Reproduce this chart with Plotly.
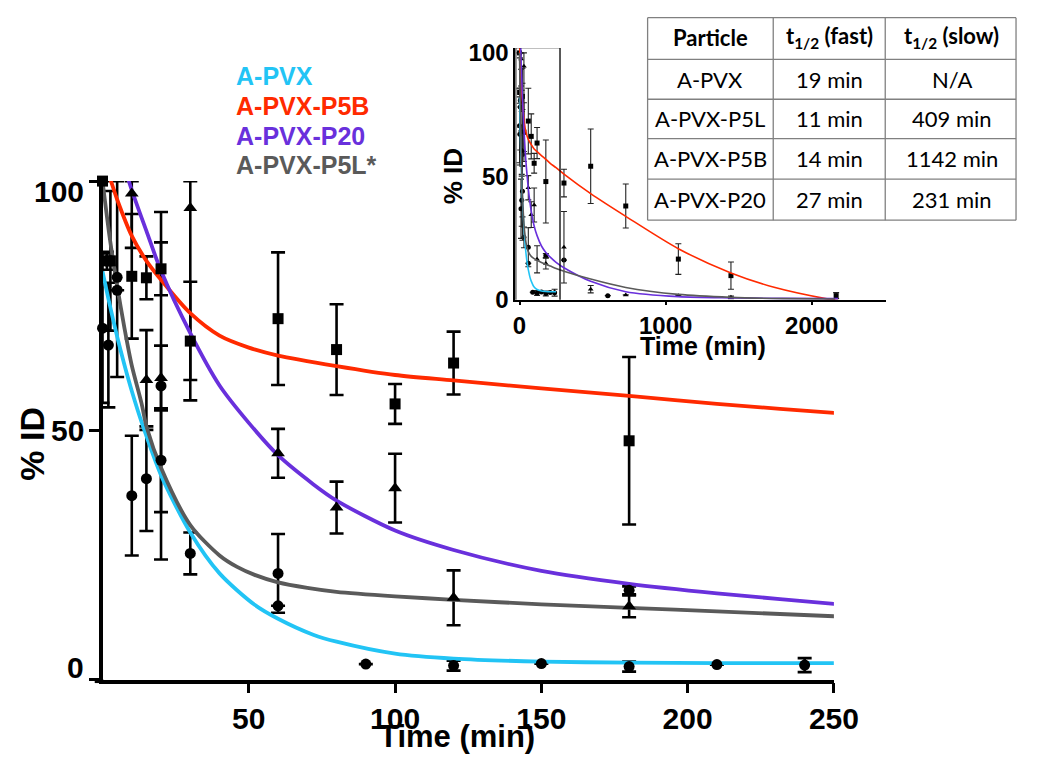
import plotly.graph_objects as go

# page has the browser's default 8px body margin; figure sized so the page is 1050x773
OFF = 8
FW, FH = 1050 - 2 * OFF, 773 - 2 * OFF

# ---------------- data ----------------
SERIES = ["A-PVX", "A-PVX-P5B", "A-PVX-P20", "A-PVX-P5L*"]
COLORS = ["#22c4f5", "#ff2a00", "#6930dc", "#5a5a5a"]

# measured points (black markers)
TIME_APVX = [0, 5, 10, 15, 20, 30, 60, 90, 120, 150, 180, 210, 240]
VAL_APVX = [70.5, 80.7, 36.9, 40.3, 44.0, 25.3, 14.8, 3.1, 2.8, 3.2, 2.6, 3.0, 2.9]
EUP_APVX = [15, 19.3, 12, 10.5, 10.4, 4.2, 0, 0, 1.0, 0, 1.0, 0, 1.4]
EDN_APVX = [15, 20, 12, 10.5, 10.4, 4.2, 0, 0, 1.0, 0, 1.0, 0, 1.4]

TIME_P5L = [2, 5, 20, 60, 180, 304, 604]
VAL_P5L = [67.1, 78.1, 58.9, 21.3, 17.9, 16.1, 1.7]
EUP_P5L = [12.5, 0, 34.9, 7.9, 0.8, 0, 0]
EDN_P5L = [12.5, 0, 34.8, 7.9, 0.8, 0, 0]

TIME_P5B = [0, 1.5, 2.7, 10, 15, 20, 30, 60, 80, 100, 120, 180, 304, 487, 727, 1087, 1447, 2167]
VAL_P5B = [100, 84, 84, 80.9, 80.6, 82.4, 67.9, 72.4, 66.2, 55.3, 63.5, 47.9, 47.3, 54.1, 38.0, 16.5, 9.8, 1.7]
EUP_P5B = [0, 1.8, 14, 12.5, 4.3, 5.3, 11.9, 13.3, 9.1, 4.0, 6.3, 16.8, 5.6, 15.1, 8.9, 6.2, 5.5, 1.2]
EDN_P5B = [0, 1.8, 14, 12.5, 4.3, 5.3, 11.9, 13.3, 9.1, 4.0, 6.3, 16.8, 5.6, 15.1, 8.9, 6.2, 5.5, 1.2]

TIME_P20 = [10, 15, 20, 30, 60, 80, 100, 120, 180, 304, 487, 727, 1087, 1447]
VAL_P20 = [97.5, 60.1, 60.5, 94.6, 45.4, 34.5, 38.4, 16.4, 14.7, 21.3, 4.3, 2.0, 1.7, 1.0]
EUP_P20 = [2.5, 10, 6.5, 5.4, 4.9, 5.2, 6.9, 5.5, 2.2, 14.5, 1.5, 0, 0, 0.5]
EDN_P20 = [10.9, 10, 6.5, 34.5, 4.9, 5.2, 6.9, 5.5, 2.2, 14.5, 1.5, 0, 0, 0.5]

# fitted curves
CT_APVX = [0, 2.5, 5, 7.5, 10, 13.5, 20, 30, 40, 52, 60, 72, 80, 100, 120, 150, 180, 210, 250]
CV_APVX = [81.9, 75.1, 68.8, 63.1, 57.9, 51.4, 41.0, 29.5, 21.3, 15.0, 12.2, 9.0, 7.6, 5.2, 4.2, 3.6, 3.4, 3.3, 3.3]

CT_P5B = [0, 2.9, 5, 10, 15, 20, 30, 40, 50, 60, 80, 100, 120, 150, 180, 210, 250,
          304, 487, 727, 1087, 1447, 1749, 2104, 2180]
CV_P5B = [105, 100, 96.3, 89, 84, 80.2, 73.5, 69, 66.6, 65.0, 62.9, 61.1, 60.0, 58.4, 56.9, 55.3, 53.5,
          50.9, 43.0, 33.8, 20.7, 10.9, 5.0, 0.4, -0.3]

CT_P20 = [3, 6, 9, 15, 20, 30, 40, 50, 60, 72, 80, 100, 120, 150, 180, 210, 250,
          304, 487, 727, 1087, 1447, 1800, 2180]
CV_P20 = [116, 107.5, 100, 90, 82, 69.5, 59, 51.5, 45, 39.2, 35.9, 29.9, 26.0, 21.8, 19.2, 17.3, 15.2,
          13.0, 7.5, 3.3, 1.3, 0.8, 0.6, 0.5]

CT_P5L = [0, 2.5, 5, 7.5, 10, 13.3, 15.2, 20, 30, 40, 46, 52, 60, 70, 80, 100, 120, 150, 180, 210, 250,
          304, 487, 727, 1087, 1447, 1800, 2160]
CV_P5L = [100, 88.5, 79, 70.5, 63, 55.5, 50.4, 42.5, 31, 24.9, 22.6, 21.0, 19.5, 18.4, 17.6, 16.7, 16.0, 15.1,
          14.4, 13.7, 12.7, 11.6, 8.4, 5.0, 2.2, 1.0, 0.5, 0.3]

# axis ticks
MAIN_XTICKS = [50, 100, 150, 200, 250]
MAIN_YTICKS = [0, 50, 100]
INSET_XTICKS = [0, 1000, 2000]
INSET_YTICKS = [0, 50, 100]

# table
TABLE_HEADER = ["Particle", "t<sub>1/2</sub> (fast)", "t<sub>1/2</sub> (slow)"]
TABLE_PARTICLE = ["A-PVX", "A-PVX-P5L", "A-PVX-P5B", "A-PVX-P20"]
TABLE_FAST = ["19 min", "11 min", "14 min", "27 min"]
TABLE_SLOW = ["N/A", "409 min", "1142 min", "231 min"]

# ---------------- helpers ----------------
FONT = "Liberation Sans, Arial, sans-serif"
TFONT = "Lato, Liberation Sans, sans-serif"


def px(x):
    """screen x (pixels) -> paper fraction"""
    return (x - OFF) / FW


def py(y):
    """screen y (pixels from top) -> paper fraction"""
    return 1 - (y - OFF) / FH


MAIN_MAX_T = 250

fig = go.Figure()

points = [
    (TIME_APVX, VAL_APVX, EUP_APVX, EDN_APVX, "circle"),
    (TIME_P5L, VAL_P5L, EUP_P5L, EDN_P5L, "circle"),
    (TIME_P5B, VAL_P5B, EUP_P5B, EDN_P5B, "square"),
    (TIME_P20, VAL_P20, EUP_P20, EDN_P20, "triangle-up"),
]
curves = [
    (CT_APVX, CV_APVX, COLORS[0]),
    (CT_P5B, CV_P5B, COLORS[1]),
    (CT_P20, CV_P20, COLORS[2]),
    (CT_P5L, CV_P5L, COLORS[3]),
]


def subset(t, *cols):
    idx = [i for i, v in enumerate(t) if v <= MAIN_MAX_T]
    return [[c[i] for i in idx] for c in (t,) + cols]


# ---- main plot: error bars (under curves) ----
for t, v, eu, ed, sym in points:
    tt, vv, uu, dd = subset(t, v, eu, ed)
    fig.add_trace(go.Scatter(
        x=tt, y=vv, mode="markers", xaxis="x", yaxis="y",
        marker=dict(size=2, color="rgba(0,0,0,0)"),
        error_y=dict(type="data", symmetric=False, array=uu, arrayminus=dd,
                     color="black", thickness=2.6, width=7),
        showlegend=False, hoverinfo="skip"))

# ---- main plot: curves ----
for t, v, c in curves:
    fig.add_trace(go.Scatter(
        x=t, y=v, mode="lines", xaxis="x", yaxis="y",
        line=dict(color=c, width=3.8, shape="spline", smoothing=0.8),
        showlegend=False, hoverinfo="skip"))

# ---- main plot: markers ----
for t, v, eu, ed, sym in points:
    tt, vv = subset(t, v)
    fig.add_trace(go.Scatter(
        x=tt, y=vv, mode="markers", xaxis="x", yaxis="y",
        marker=dict(size=11 if sym != "triangle-up" else 12, symbol=sym, color="black"),
        cliponaxis=False, showlegend=False))

# ---- inset ----
for t, v, eu, ed, sym in points:
    fig.add_trace(go.Scatter(
        x=t, y=v, mode="markers", xaxis="x2", yaxis="y2",
        marker=dict(size=5, symbol=sym, color="black"),
        error_y=dict(type="data", symmetric=False, array=eu, arrayminus=ed,
                     color="#222222", thickness=1.1, width=3),
        cliponaxis=False, showlegend=False))
for t, v, c in curves:
    fig.add_trace(go.Scatter(
        x=t, y=v, mode="lines", xaxis="x2", yaxis="y2",
        line=dict(color=c, width=1.6, shape="spline", smoothing=0.8),
        showlegend=False, hoverinfo="skip"))

# ---------------- layout ----------------
annotations = []
shapes = []

# main y tick labels (placed as in the original figure)
for val, shift in zip(MAIN_YTICKS, [12, 0, -10]):
    annotations.append(dict(x=px(86), xref="paper", y=val, yref="y", yshift=shift,
                            text=str(val), showarrow=False, xanchor="right", yanchor="middle",
                            font=dict(family=FONT, size=30, color="black", weight="bold")))

# axis titles
annotations.append(dict(x=px(467), y=py(749), xref="paper", yref="paper", text="Time (min)",
                        showarrow=False, xanchor="center", yanchor="middle",
                        font=dict(family=FONT, size=31, color="black", weight="bold")))
annotations.append(dict(x=px(31), y=py(447), xref="paper", yref="paper", text="% ID", textangle=-90,
                        showarrow=False, xanchor="center", yanchor="middle",
                        font=dict(family=FONT, size=34, color="black", weight="bold")))
annotations.append(dict(x=px(720), y=py(347), xref="paper", yref="paper", text="Time (min)",
                        showarrow=False, xanchor="center", yanchor="middle",
                        font=dict(family=FONT, size=25, color="black", weight="bold")))
annotations.append(dict(x=px(463), y=py(172), xref="paper", yref="paper", text="% ID", textangle=-90,
                        showarrow=False, xanchor="center", yanchor="middle",
                        font=dict(family=FONT, size=26, color="black", weight="bold")))

# legend text
for name, col, yc in zip(SERIES, COLORS, [69, 100, 130.5, 160.5]):
    annotations.append(dict(x=px(238), y=py(yc), xref="paper", yref="paper", text=name,
                            showarrow=False, xanchor="left", yanchor="middle",
                            font=dict(family=FONT, size=25, color=col, weight="bold")))

# table
col_x = [662.7, 791.7, 906.7, 1041]
row_y = [8.7, 51.7, 92.7, 133.3, 175, 217.3]
for xv in col_x:
    shapes.append(dict(type="line", xref="paper", yref="paper", x0=px(xv), x1=px(xv),
                       y0=py(row_y[0]), y1=py(row_y[-1]), line=dict(color="#808080", width=1.3)))
for yv in row_y:
    shapes.append(dict(type="line", xref="paper", yref="paper", x0=px(col_x[0]), x1=px(col_x[-1]),
                       y0=py(yv), y1=py(yv), line=dict(color="#808080", width=1.3)))
col_c = [727.2, 849.2, 975]
row_c = [(row_y[i] + row_y[i + 1]) / 2 for i in range(5)]
row_c[0] = 29
for j, htxt in enumerate(TABLE_HEADER):
    annotations.append(dict(x=px(col_c[j]), y=py(row_c[0]), xref="paper", yref="paper", text="<b>" + htxt + "</b>",
                            showarrow=False, xanchor="center", yanchor="middle",
                            font=dict(family=TFONT, size=22, color="black")))
for i in range(4):
    for j, colvals in enumerate([TABLE_PARTICLE, TABLE_FAST, TABLE_SLOW]):
        annotations.append(dict(x=px(col_c[j]), y=py(row_c[i + 1]), xref="paper", yref="paper",
                                text=colvals[i], showarrow=False, xanchor="center", yanchor="middle",
                                font=dict(family=TFONT, size=22, color="black")))

# zoom box in inset
shapes.append(dict(type="rect", xref="x2", yref="y2", x0=-26, x1=277, y0=-0.5, y1=102.2,
                   line=dict(color="black", width=1.3), layer="above"))
# small overhang of the main x-axis line to the left of the y axis
shapes.append(dict(type="line", xref="paper", yref="paper", x0=px(95), x1=px(104),
                   y0=py(692.2), y1=py(692.2), line=dict(color="black", width=3.5)))

fig.update_layout(
    width=FW, height=FH, margin=dict(l=0, r=0, t=0, b=0),
    paper_bgcolor="white", plot_bgcolor="rgba(0,0,0,0)",
    showlegend=False,
    xaxis=dict(domain=[px(103), px(854)], range=[0, 250], anchor="y",
               tickvals=MAIN_XTICKS, ticks="outside", ticklen=10, tickwidth=3, tickcolor="black",
               showline=True, linewidth=3.5, linecolor="black", showgrid=False, zeroline=False,
               tickfont=dict(family=FONT, size=30, color="black", weight="bold")),
    yaxis=dict(domain=[py(690.4), py(177)], range=[0, 100], anchor="x",
               tickvals=MAIN_YTICKS, ticks="outside", ticklen=10, tickwidth=3, tickcolor="black",
               showticklabels=False,
               showline=True, linewidth=3.5, linecolor="black", showgrid=False, zeroline=False),
    xaxis2=dict(domain=[px(527), px(907)], range=[-28, 2505], anchor="y2",
                tickvals=INSET_XTICKS, ticks="outside", ticklen=3, tickwidth=1.5, tickcolor="black",
                showline=True, linewidth=2, linecolor="black", showgrid=False, zeroline=False,
                tickfont=dict(family=FONT, size=24, color="black", weight="bold")),
    yaxis2=dict(domain=[py(299.3), py(39.9)], range=[0, 102], anchor="x2",
                tickvals=INSET_YTICKS, ticks="",
                showline=True, linewidth=2, linecolor="black", showgrid=False, zeroline=False,
                tickfont=dict(family=FONT, size=24, color="black", weight="bold")),
    annotations=annotations, shapes=shapes,
)

fig.write_html("out.html", config={"displayModeBar": False})
